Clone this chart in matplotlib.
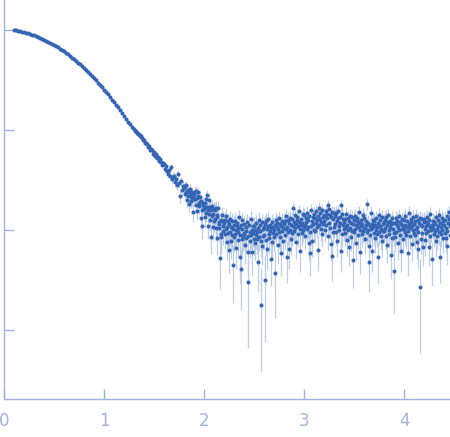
import numpy as np
import matplotlib
matplotlib.use("Agg")
import matplotlib.pyplot as plt

# Datos: log10(I) * 100, en tres tramos de q
# tramo 1: q = 0.10 ... 1.28 (paso 0.02)
logI_low = [
    0, 0, -1, -1, -2, -2, -3, -3, -4, -5,
    -5, -6, -7, -8, -9, -10, -11, -12, -13, -14,
    -15, -16, -17, -19, -20, -21, -23, -24, -26, -28,
    -29, -31, -33, -34, -36, -38, -40, -42, -44, -46,
    -48, -50, -53, -55, -57, -60, -62, -64, -67, -70,
    -72, -75, -77, -80, -83, -86, -89, -92, -94, -97,
]

# tramo 2: q = 1.30 ... 1.79 (paso 0.01)
logI_mid = [
    -99, -101, -101, -103, -104, -104, -106, -106, -108, -110,
    -110, -113, -113, -114, -117, -116, -120, -119, -120, -124,
    -122, -126, -124, -128, -127, -131, -129, -132, -135, -133,
    -134, -139, -136, -141, -144, -140, -146, -137, -149, -147,
    -146, -152, -149, -155, -144, -153, -166, -151, -160, -156,
]

# tramo 3: q = 1.800 ... 4.460 (paso 0.005), una fila por cada 0.1 en q
logI_high = [
    # 1.8
    -158, -164, -156, -162, -155, -170, -162, -160, -166, -174,
    -162, -159, -166, -171, -164, -162, -169, -166, -182, -164,
    # 1.9
    -169, -162, -169, -161, -175, -168, -181, -166, -162, -173,
    -176, -172, -167, -188, -171, -180, -196, -175, -173, -179,
    # 2.0
    -177, -173, -187, -169, -183, -177, -165, -196, -180, -170,
    -184, -190, -177, -207, -180, -176, -186, -184, -197, -179,
    # 2.1
    -191, -180, -189, -178, -198, -187, -208, -185, -178, -194,
    -198, -192, -228, -207, -190, -204, -185, -196, -191, -201,
    # 2.2
    -193, -204, -190, -199, -186, -212, -197, -191, -203, -220,
    -194, -189, -202, -211, -197, -191, -205, -199, -235, -195,
    # 2.3
    -207, -191, -204, -200, -218, -196, -193, -202, -210, -198,
    -187, -205, -227, -195, -239, -209, -199, -190, -206, -203,
    # 2.4
    -194, -204, -215, -197, -201, -208, -192, -206, -252, -222,
    -195, -211, -202, -189, -205, -200, -222, -196, -203, -209,
    # 2.5
    -196, -213, -200, -205, -193, -209, -202, -198, -232, -190,
    -207, -201, -195, -211, -275, -192, -216, -199, -206, -197,
    # 2.6
    -205, -194, -250, -191, -210, -199, -219, -196, -189, -204,
    -208, -201, -195, -229, -198, -212, -192, -203, -197, -207,
    # 2.7
    -200, -195, -243, -190, -204, -197, -193, -215, -199, -188,
    -202, -207, -194, -223, -196, -191, -201, -198, -211, -192,
    # 2.8
    -194, -205, -191, -199, -186, -227, -197, -190, -202, -219,
    -193, -188, -200, -209, -195, -189, -203, -196, -178, -192,
    # 2.9
    -201, -185, -198, -194, -212, -190, -187, -196, -204, -192,
    -181, -199, -221, -189, -195, -203, -193, -184, -200, -197,
    # 3.0
    -185, -195, -206, -188, -192, -199, -183, -197, -190, -213,
    -186, -202, -223, -180, -196, -191, -211, -187, -194, -200,
    # 3.1
    -184, -201, -188, -193, -181, -197, -190, -186, -220, -178,
    -195, -189, -183, -199, -192, -180, -204, -187, -194, -185,
    # 3.2
    -191, -186, -200, -181, -195, -188, -184, -206, -175, -179,
    -193, -198, -185, -214, -187, -182, -226, -189, -202, -183,
    # 3.3
    -197, -186, -194, -183, -202, -191, -211, -188, -181, -196,
    -200, -193, -187, -221, -175, -204, -184, -195, -189, -199,
    # 3.4
    -192, -203, -189, -197, -184, -210, -195, -188, -200, -217,
    -191, -186, -198, -207, -193, -187, -201, -194, -230, -190,
    # 3.5
    -202, -186, -199, -195, -213, -191, -188, -197, -205, -193,
    -182, -200, -222, -190, -196, -204, -194, -185, -201, -198,
    # 3.6
    -188, -198, -209, -191, -195, -202, -174, -200, -193, -216,
    -232, -205, -196, -183, -199, -194, -221, -190, -197, -203,
    # 3.7
    -191, -208, -195, -200, -188, -204, -197, -193, -227, -185,
    -202, -196, -190, -206, -199, -187, -211, -194, -201, -192,
    # 3.8
    -201, -190, -198, -187, -206, -195, -215, -192, -185, -200,
    -204, -197, -191, -225, -194, -208, -188, -199, -193, -203,
    # 3.9
    -241, -193, -207, -188, -202, -195, -191, -213, -197, -186,
    -200, -205, -192, -221, -194, -189, -199, -196, -209, -190,
    # 4.0
    -199, -202, -186, -195, -205, -197, -191, -223, -201, -183,
    -194, -206, -198, -189, -192, -214, -196, -200, -187, -203,
    # 4.1
    -194, -205, -191, -199, -186, -212, -197, -190, -202, -219,
    -193, -188, -257, -209, -195, -189, -203, -196, -217, -192,
    # 4.2
    -189, -199, -210, -192, -196, -203, -187, -201, -194, -217,
    -190, -206, -197, -184, -200, -195, -229, -191, -198, -204,
    # 4.3
    -192, -201, -194, -211, -187, -199, -206, -190, -196, -202,
    -185, -227, -193, -197, -204, -188, -200, -195, -208, -191,
    # 4.4
    -195, -203, -190, -208, -198, -186, -201, -216, -193, -182,
    -189, -205, -196,
]

# error (sigma, en unidades de 1e-4) por bloques de 0.1 en q, desde q = 0.1
sigma_block = [
    42, 42, 42, 42, 41, 40, 39, 38, 37, 36,
    35, 35, 34, 34, 33, 32, 31, 30, 29, 28,
    27, 26, 25, 25, 24, 24, 24, 24, 24, 24,
    24, 24, 24, 24, 24, 24, 24, 24, 24, 24,
    24, 24, 24, 24,
]

# rejilla de q (muestreo uniforme del detector)
q_low = np.round(np.arange(0.10, 1.29, 0.02), 3)
q_mid = np.round(np.arange(1.30, 1.795, 0.01), 3)
q_high = np.round(np.arange(1.80, 4.4625, 0.005), 3)

q = np.concatenate([q_low, q_mid, q_high])
logI = np.array(logI_low + logI_mid + logI_high, dtype=float)
assert len(q) == len(logI)

I = 10 ** (logI / 100.0)
blk = ((q - 0.1) / 0.1 + 1e-9).astype(int)
sigma = np.array(sigma_block, dtype=float)[blk] * 1e-4
err_lo = np.minimum(sigma, 0.78 * I)
err_hi = sigma

axis_col = "#9fb3de"
point_col = "#3465b5"
bar_col = "#bccde8"

fig = plt.figure(figsize=(4.5, 4.37), dpi=100)
ax = fig.add_axes([4 / 450, 1 - 399 / 437, 446 / 450, 399 / 437])

ax.vlines(q, I - err_lo, I + err_hi, color=bar_col, lw=0.9, zorder=1)
ax.plot(q, I, "o", ms=2.9, color=point_col, mec=point_col, mew=0, zorder=2)

ax.set_yscale("log")
ax.set_xlim(0, 4.46)
ax.set_ylim(10 ** -3.69, 10 ** 0.30)

ax.set_xticks([0, 1, 2, 3, 4])
ax.set_yticks([1, 0.1, 0.01, 0.001])
ax.yaxis.set_minor_locator(matplotlib.ticker.NullLocator())
ax.set_yticklabels([])

for s in ["top", "right"]:
    ax.spines[s].set_visible(False)
for s in ["left", "bottom"]:
    ax.spines[s].set_color(axis_col)
    ax.spines[s].set_linewidth(1)

ax.tick_params(axis="both", direction="in", length=7, width=1, color=axis_col,
               labelcolor=axis_col, labelsize=12)
ax.tick_params(axis="x", pad=9)

fig.savefig("out.png", dpi=100)
